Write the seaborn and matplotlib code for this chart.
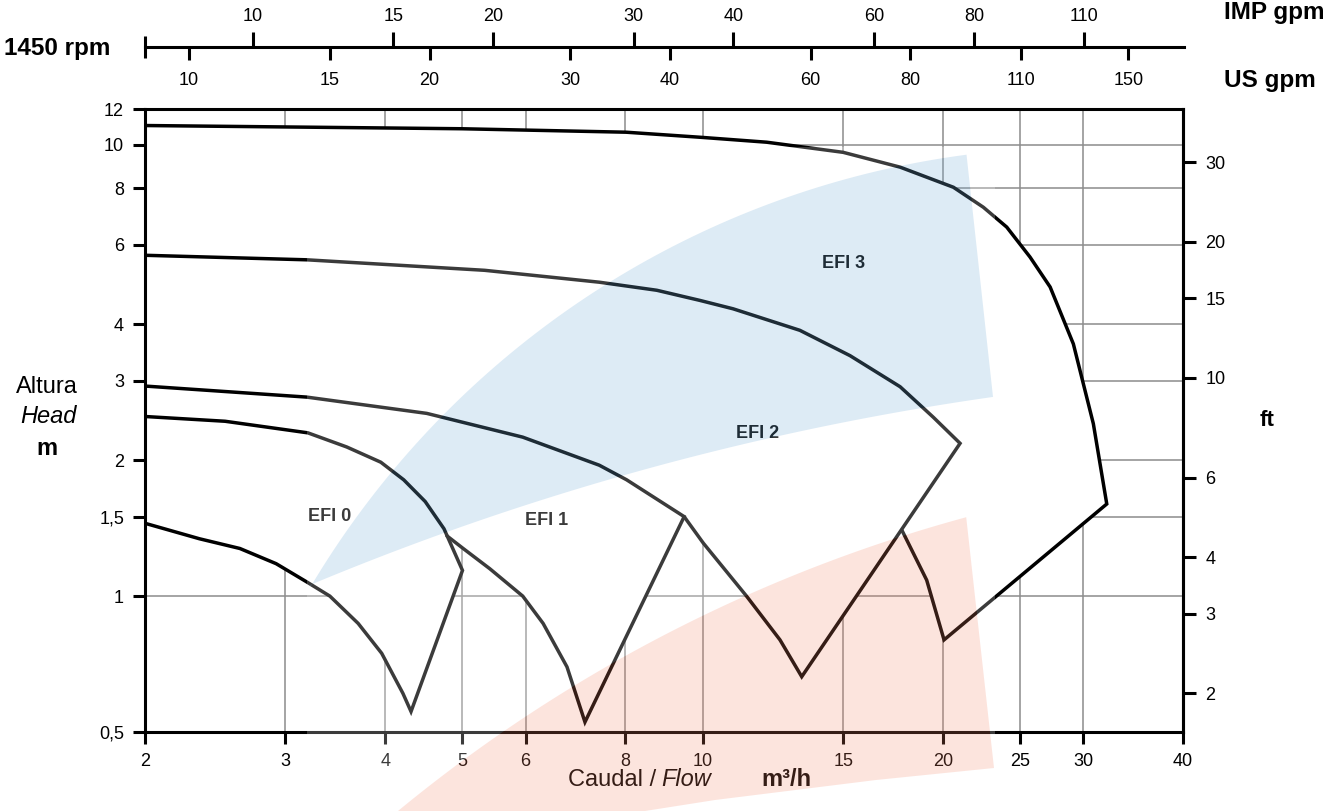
import numpy as np
import pandas as pd
import seaborn as sns
import matplotlib.pyplot as plt
from matplotlib.patches import PathPatch
from matplotlib.path import Path
from matplotlib.ticker import NullLocator

# pump curves, flow in m3/h and head in m
efi0_upper_q = [2.0, 2.52, 3.2, 3.58, 3.95, 4.22, 4.49, 4.74, 5.0]
efi0_upper_h = [2.50, 2.44, 2.30, 2.14, 1.98, 1.81, 1.62, 1.41, 1.14]
efi0_lower_q = [2.0, 2.34, 2.63, 2.92, 3.19, 3.41, 3.70, 3.96, 4.21, 4.31]
efi0_lower_h = [1.45, 1.34, 1.275, 1.18, 1.075, 1.0, 0.87, 0.747, 0.609, 0.555]

efi1_upper_q = [2.0, 3.19, 4.51, 5.95, 7.42, 8.03, 9.48]
efi1_upper_h = [2.92, 2.76, 2.54, 2.25, 1.95, 1.81, 1.50]
efi1_lower_q = [4.78, 5.01, 5.41, 5.95, 6.31, 6.76, 7.12]
efi1_lower_h = [1.36, 1.275, 1.15, 1.0, 0.87, 0.697, 0.526]

efi2_upper_q = [2.0, 3.19, 5.33, 7.42, 8.76, 9.92, 10.92, 13.24, 15.3, 17.68, 19.46, 21.02]
efi2_upper_h = [5.69, 5.56, 5.27, 4.96, 4.76, 4.52, 4.33, 3.88, 3.41, 2.91, 2.49, 2.18]
efi2_lower_q = [9.48, 10.02, 11.35, 12.5, 13.31]
efi2_lower_h = [1.50, 1.31, 1.0, 0.80, 0.663]

efi3_upper_q = [2.0, 4.99, 8.02, 9.92, 12.03, 15.0, 17.68, 20.62, 22.48, 24.05, 25.72, 27.26, 29.15, 30.88, 32.1]
efi3_upper_h = [11.03, 10.85, 10.66, 10.39, 10.13, 9.62, 8.92, 8.05, 7.27, 6.57, 5.64, 4.84, 3.62, 2.41, 1.60]
efi3_lower_q = [17.77, 19.09, 20.07]
efi3_lower_h = [1.40, 1.085, 0.80]

models = ["EFI 0", "EFI 1", "EFI 2", "EFI 3"]
label_q = [3.41, 6.38, 11.71, 15.02]
label_h = [1.50, 1.47, 2.29, 5.47]

x_ticks = [2, 3, 4, 5, 6, 8, 10, 15, 20, 25, 30, 40]
y_ticks = [0.5, 1, 1.5, 2, 3, 4, 6, 8, 10, 12]
y_tick_labels = ["0,5", "1", "1,5", "2", "3", "4", "6", "8", "10", "12"]
ft_ticks = [2, 3, 4, 6, 10, 15, 20, 30]
imp_ticks = [10, 15, 20, 30, 40, 60, 80, 110]
us_ticks = [10, 15, 20, 30, 40, 60, 80, 110, 150]

M3H_TO_US = 4.403
M3H_TO_IMP = 3.666
M_TO_FT = 3.2808

W, H = 1342, 811

sns.set_theme(style="white", rc={"text.color": "black", "xtick.color": "black",
                                 "ytick.color": "black", "axes.edgecolor": "black"})
plt.rcParams["font.family"] = ["Liberation Sans", "DejaVu Sans"]


def fx(px):
    return px / W


def fy(py):
    return 1 - py / H


fig = plt.figure(figsize=(W / 100, H / 100), dpi=100)
ax = fig.add_axes([fx(145), fy(732), (1183 - 145) / W, (732 - 109) / H])
ax.set_xscale("log")
ax.set_yscale("log")
ax.set_xlim(2, 40)
ax.set_ylim(0.5, 12)

# white area under the curves hides the grid
env_q = (efi3_upper_q + efi3_lower_q[::-1] + efi2_lower_q[::-1] + efi1_lower_q[::-1]
         + efi0_upper_q[-1:] + efi0_lower_q[::-1])
env_h = (efi3_upper_h + efi3_lower_h[::-1] + efi2_lower_h[::-1] + efi1_lower_h[::-1]
         + efi0_upper_h[-1:] + efi0_lower_h[::-1])
ax.fill(env_q, env_h, color="white", lw=0, zorder=1)

rows = []
curves = [(efi0_upper_q, efi0_upper_h, efi0_lower_q, efi0_lower_h),
          (efi1_upper_q, efi1_upper_h, efi1_lower_q, efi1_lower_h),
          (efi2_upper_q, efi2_upper_h, efi2_lower_q, efi2_lower_h),
          (efi3_upper_q, efi3_upper_h, efi3_lower_q, efi3_lower_h)]
for name, (uq, uh, lq, lh) in zip(models, curves):
    for q, h in zip(uq + lq[::-1], uh + lh[::-1]):
        rows.append({"model": name, "q": q, "h": h})
df = pd.DataFrame(rows)
sns.lineplot(data=df, x="q", y="h", units="model", estimator=None, sort=False,
             color="black", linewidth=2.5, solid_joinstyle="miter", ax=ax, zorder=2)
ax.set_xlabel("")
ax.set_ylabel("")

for name, q, h in zip(models, label_q, label_h):
    ax.text(q, h, name, ha="center", va="center", fontsize=13, fontweight="bold", zorder=3)

ax.set_axisbelow(True)
ax.grid(True, which="major", color="#8c8c8c", lw=1.1)
ax.set_xticks(x_ticks, labels=[str(v) for v in x_ticks])
ax.set_yticks(y_ticks, labels=y_tick_labels)
ax.xaxis.set_minor_locator(NullLocator())
ax.yaxis.set_minor_locator(NullLocator())
ax.tick_params(axis="both", which="major", direction="out", length=8.6, width=2.2,
               labelsize=13, pad=6.5, bottom=True, left=True, colors="black")
for s in ax.spines.values():
    s.set_color("black")
    s.set_linewidth(2.2)

ax_ft = ax.secondary_yaxis("right", functions=(lambda h: h * M_TO_FT, lambda f: f / M_TO_FT))
ax_ft.set_yticks(ft_ticks, labels=[str(v) for v in ft_ticks])
ax_ft.yaxis.set_minor_locator(NullLocator())
ax_ft.tick_params(axis="y", direction="out", length=9, width=2.2, labelsize=13, pad=7,
                  right=True, colors="black")
ax_ft.spines["right"].set_linewidth(2.2)
ax_ft.spines["right"].set_color("black")

# gpm scales above the chart
ax_top = fig.add_axes([fx(145), fy(47), (1184 - 145) / W, 1e-4])
ax_top.set_xscale("log")
ax_top.set_xlim(2, 40)
ax_top.set_yticks([])
ax_top.patch.set_visible(False)
for side in ["top", "left", "right"]:
    ax_top.spines[side].set_visible(False)
ax_top.spines["bottom"].set_linewidth(2.2)
ax_top.spines["bottom"].set_color("black")
ax_top.set_xticks([2], labels=[""])
ax_top.xaxis.set_minor_locator(NullLocator())
ax_top.tick_params(axis="x", direction="inout", length=16, width=2.2, bottom=True, colors="black")

imp = ax_top.secondary_xaxis("top", functions=(lambda q: q * M3H_TO_IMP, lambda g: g / M3H_TO_IMP))
imp.set_xticks(imp_ticks, labels=[str(v) for v in imp_ticks])
imp.xaxis.set_minor_locator(NullLocator())
imp.tick_params(axis="x", direction="out", length=11, width=2.2, labelsize=13, pad=5,
                top=True, colors="black")
imp.spines["top"].set_visible(False)

us = ax_top.secondary_xaxis("bottom", functions=(lambda q: q * M3H_TO_US, lambda g: g / M3H_TO_US))
us.set_xticks(us_ticks, labels=[str(v) for v in us_ticks])
us.xaxis.set_minor_locator(NullLocator())
us.tick_params(axis="x", direction="out", length=9.4, width=2.2, labelsize=13, pad=8.6,
               bottom=True, colors="black")
us.spines["bottom"].set_visible(False)

# texts
big = 17.5
fig.text(fx(4.5), fy(55), "1450 rpm", fontsize=big, fontweight="bold", ha="left", va="baseline")
fig.text(fx(1224), fy(19.5), "IMP gpm", fontsize=big, fontweight="bold", ha="left", va="baseline")
fig.text(fx(1224), fy(87), "US gpm", fontsize=big, fontweight="bold", ha="left", va="baseline")
fig.text(fx(46.7), fy(393), "Altura", fontsize=17, ha="center", va="baseline")
fig.text(fx(48), fy(423), "Head", fontsize=17, style="italic", ha="center", va="baseline")
fig.text(fx(46.7), fy(455), "m", fontsize=17, fontweight="bold", ha="center", va="baseline")
fig.text(fx(1267), fy(426), "ft", fontsize=16, fontweight="bold", ha="center", va="baseline")
fig.text(fx(656), fy(786), "Caudal /", fontsize=17, ha="right", va="baseline", zorder=0.5)
fig.text(fx(661), fy(786), "Flow", fontsize=17, style="italic", ha="left", va="baseline", zorder=0.5)
fig.text(fx(786), fy(786), "m³/h", fontsize=17, fontweight="bold", ha="center", va="baseline", zorder=0.5)


# decorative wedges (pixel geometry)
def arc(cx, cy, r, a0, a1, n=80):
    t = np.radians(np.linspace(a0, a1, n))
    return np.column_stack([cx + r * np.cos(t), cy + r * np.sin(t)])


def to_fig(pts):
    pts = np.asarray(pts, dtype=float)
    return np.column_stack([pts[:, 0] / W, 1 - pts[:, 1] / H])


def signed_area(p):
    x, y = p[:, 0], p[:, 1]
    return 0.5 * np.sum(x * np.roll(y, -1) - np.roll(x, -1) * y)


def ring(p):
    verts = np.vstack([p, p[:1]])
    codes = [Path.MOVETO] + [Path.LINETO] * (len(p) - 1) + [Path.CLOSEPOLY]
    return verts, codes


blue = to_fig(np.vstack([arc(1084, 1047, 900, -149.2, -97.5), [[993, 397]],
                         arc(1387, 3162, 2793, -98.1, -112.7)]))
pink = to_fig(np.vstack([arc(1365, 1985, 1521, -133, -105.2),
                         [[994, 768], [876, 780], [715, 800], [645, 811], [540, 835], [420, 880]]]))
rect = to_fig([[307, 147], [995, 147], [995, 1000], [307, 1000]])

verts, codes = ring(rect)
all_v, all_c = [verts], list(codes)
for hole in (blue, pink):
    if np.sign(signed_area(hole)) == np.sign(signed_area(rect)):
        hole = hole[::-1]
    v, c = ring(hole)
    all_v.append(v)
    all_c += c
overlay = PathPatch(Path(np.vstack(all_v), all_c), transform=fig.transFigure,
                    facecolor="white", edgecolor="none", alpha=0.235, zorder=1)
fig.add_artist(overlay)

for poly, col, a in ((blue, (0.47, 0.69, 0.85), 0.25), (pink, (0.96, 0.52, 0.40), 0.22)):
    v, c = ring(poly)
    fig.add_artist(PathPatch(Path(v, c), transform=fig.transFigure, facecolor=col,
                             edgecolor="none", alpha=a, zorder=2))

fig.savefig("out.png", dpi=100)
